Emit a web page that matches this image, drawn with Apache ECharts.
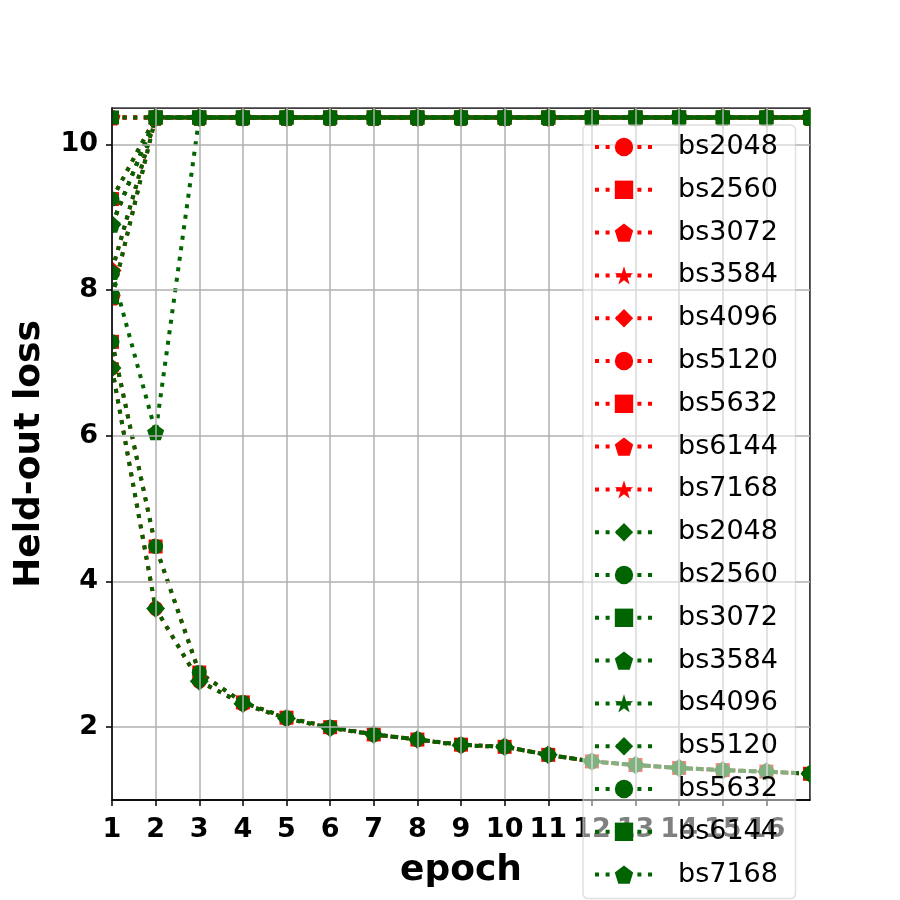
<!DOCTYPE html>
<html><head><meta charset="utf-8">
<script src="https://cdn.jsdelivr.net/npm/echarts@6/dist/echarts.min.js"></script>
<style>html,body{margin:0;padding:0;background:#fff}#c{width:900px;height:900px}</style>
</head><body><div id="c"></div>
<script>
const epochs = [1,2,3,4,5,6,7,8,9,10,11,12,13,14,15,16,17];
const xTickValues = [1,2,3,4,5,6,7,8,9,10,11,12,13,14,15,16];
const yTickValues = [2,4,6,8,10];
const batchNames = ['bs2048','bs2560','bs3072','bs3584','bs4096','bs5120','bs5632','bs6144','bs7168'];

// red group
const red_bs2048 = [6.93,3.63,2.63,2.32,2.12,1.99,1.90,1.83,1.75,1.73,1.62,1.53,1.48,1.44,1.41,1.39,1.36];
const red_bs2560 = [7.29,4.48,2.75,2.34,2.13,2.00,1.90,1.83,1.76,1.73,1.62,1.53,1.48,1.44,1.41,1.39,1.36];
const red_bs3072 = [7.90,10.37,10.37,10.37,10.37,10.37,10.37,10.37,10.37,10.37,10.37,10.37,10.37,10.37,10.37,10.37,10.37];
const red_bs3584 = [8.90,10.37,10.37,10.37,10.37,10.37,10.37,10.37,10.37,10.37,10.37,10.37,10.37,10.37,10.37,10.37,10.37];
const red_bs4096 = [8.27,10.37,10.37,10.37,10.37,10.37,10.37,10.37,10.37,10.37,10.37,10.37,10.37,10.37,10.37,10.37,10.37];
const red_bs5120 = [10.37,10.37,10.37,10.37,10.37,10.37,10.37,10.37,10.37,10.37,10.37,10.37,10.37,10.37,10.37,10.37,10.37];
const red_bs5632 = [9.25,10.37,10.37,10.37,10.37,10.37,10.37,10.37,10.37,10.37,10.37,10.37,10.37,10.37,10.37,10.37,10.37];
const red_bs6144 = [10.37,10.37,10.37,10.37,10.37,10.37,10.37,10.37,10.37,10.37,10.37,10.37,10.37,10.37,10.37,10.37,10.37];
const red_bs7168 = [10.37,10.37,10.37,10.37,10.37,10.37,10.37,10.37,10.37,10.37,10.37,10.37,10.37,10.37,10.37,10.37,10.37];

// green group
const green_bs2048 = [6.93,3.63,2.63,2.32,2.12,1.99,1.90,1.83,1.75,1.73,1.62,1.53,1.48,1.44,1.41,1.39,1.36];
const green_bs2560 = [7.29,4.48,2.75,2.34,2.13,2.00,1.90,1.83,1.76,1.73,1.62,1.53,1.48,1.44,1.41,1.39,1.36];
const green_bs3072 = [10.37,10.37,10.37,10.37,10.37,10.37,10.37,10.37,10.37,10.37,10.37,10.37,10.37,10.37,10.37,10.37,10.37];
const green_bs3584 = [8.25,6.05,10.37,10.37,10.37,10.37,10.37,10.37,10.37,10.37,10.37,10.37,10.37,10.37,10.37,10.37,10.37];
const green_bs4096 = [8.27,10.37,10.37,10.37,10.37,10.37,10.37,10.37,10.37,10.37,10.37,10.37,10.37,10.37,10.37,10.37,10.37];
const green_bs5120 = [8.90,10.37,10.37,10.37,10.37,10.37,10.37,10.37,10.37,10.37,10.37,10.37,10.37,10.37,10.37,10.37,10.37];
const green_bs5632 = [9.25,10.37,10.37,10.37,10.37,10.37,10.37,10.37,10.37,10.37,10.37,10.37,10.37,10.37,10.37,10.37,10.37];
const green_bs6144 = [7.90,10.37,10.37,10.37,10.37,10.37,10.37,10.37,10.37,10.37,10.37,10.37,10.37,10.37,10.37,10.37,10.37];
const green_bs7168 = [8.90,10.37,10.37,10.37,10.37,10.37,10.37,10.37,10.37,10.37,10.37,10.37,10.37,10.37,10.37,10.37,10.37];

const redValues = [red_bs2048,red_bs2560,red_bs3072,red_bs3584,red_bs4096,red_bs5120,red_bs5632,red_bs6144,red_bs7168];
const greenValues = [green_bs2048,green_bs2560,green_bs3072,green_bs3584,green_bs4096,green_bs5120,green_bs5632,green_bs6144,green_bs7168];

const PENT = 'path://M0,-1 L0.951,-0.309 L0.588,0.809 L-0.588,0.809 L-0.951,-0.309 Z';
const STAR = 'path://M0,-1 L0.2245,-0.309 L0.951,-0.309 L0.363,0.118 L0.588,0.809 L0,0.382 L-0.588,0.809 L-0.363,0.118 L-0.951,-0.309 L-0.2245,-0.309 Z';
const markerCycle = [
  {symbol:'circle', size:15},
  {symbol:'rect', size:14},
  {symbol:PENT, size:17},
  {symbol:STAR, size:17},
  {symbol:'diamond', size:19}
];

const FONT = 'DejaVu Sans';
const LINE_W = 4;
const DASH = [4, 6.6];
const series = [];
const legendData = [];
function addGroup(values, color, suffix, offset) {
  values.forEach((vals, i) => {
    const m = markerCycle[(offset + i) % 5];
    const name = batchNames[i] + suffix;
    legendData.push(name);
    series.push({
      type: 'line',
      name: name,
      data: epochs.map((e, j) => [e, vals[j]]),
      symbol: m.symbol,
      symbolSize: m.size,
      symbolKeepAspect: true,
      showAllSymbol: true,
      clip: true,
      lineStyle: {color: color, width: LINE_W, type: DASH},
      itemStyle: {color: color, borderWidth: 0},
      emphasis: {disabled: true},
      z: 2
    });
  });
}
addGroup(redValues, '#ff0000', '', 0);
addGroup(greenValues, '#006400', ' ', 9);

const GRID = {left: 112, right: 90, top: 108, bottom: 100};
const chart = echarts.init(document.getElementById('c'), null, {renderer: 'canvas'});
chart.setOption({
  animation: false,
  backgroundColor: '#ffffff',
  grid: Object.assign({show: true, borderColor: '#000', borderWidth: 1.5, backgroundColor: 'transparent'}, GRID),
  xAxis: {
    type: 'value', min: 1, max: 17, interval: 1, z: 6,
    name: 'epoch', nameLocation: 'middle', nameGap: 53,
    nameTextStyle: {fontSize: 36, fontWeight: 'bold', color: '#000', fontFamily: FONT},
    axisLine: {show: true, onZero: false, lineStyle: {color: '#000', width: 1.5}},
    axisTick: {show: true, length: 6, customValues: xTickValues, lineStyle: {color: '#000', width: 1.5}},
    axisLabel: {customValues: xTickValues, fontSize: 27, fontWeight: 'bold', color: '#000', fontFamily: FONT, margin: 16},
    splitLine: {show: true, lineStyle: {color: '#b0b0b0', width: 1.5}}
  },
  yAxis: {
    type: 'value', min: 1, max: 10.5, z: 6,
    name: 'Held-out loss', nameLocation: 'middle', nameGap: 64,
    nameTextStyle: {fontSize: 36, fontWeight: 'bold', color: '#000', fontFamily: FONT},
    axisLine: {show: true, onZero: false, lineStyle: {color: '#000', width: 1.5}},
    axisTick: {show: true, length: 6, customValues: yTickValues, lineStyle: {color: '#000', width: 1.5}},
    axisLabel: {customValues: yTickValues, fontSize: 27, fontWeight: 'bold', color: '#000', fontFamily: FONT, margin: 14},
    splitLine: {show: true, lineStyle: {color: '#b0b0b0', width: 1.5}}
  },
  legend: {
    show: true, orient: 'vertical', left: 583, top: 125, z: 8,
    padding: [7, 9, 9, 10],
    itemWidth: 58, itemHeight: 23, itemGap: 12.8,
    backgroundColor: 'rgba(255,255,255,0.5)',
    borderColor: 'rgba(204,204,204,0.6)', borderWidth: 1.5, borderRadius: 5,
    selectedMode: false,
    lineStyle: {width: LINE_W, type: DASH},
    textStyle: {fontSize: 27, fontFamily: FONT, color: '#000', lineHeight: 30, padding: [0, 0, 0, 20]},
    data: legendData
  },
  series: series
});

// Clip marker halves that fall outside the plot box (as the reference does), using the grid's own pixel bounds.
const p0 = chart.convertToPixel({gridIndex: 0}, [1, 10.5]);
const p1 = chart.convertToPixel({gridIndex: 0}, [17, 1]);
chart.setOption({
  graphic: [
    {type: 'rect', z: 5, silent: true, shape: {x: p0[0] - 12, y: p0[1] - 12, width: 11.2, height: p1[1] - p0[1] + 24}, style: {fill: '#ffffff'}},
    {type: 'rect', z: 5, silent: true, shape: {x: p1[0] + 0.8, y: p0[1] - 12, width: 14, height: p1[1] - p0[1] + 24}, style: {fill: '#ffffff'}},
    {type: 'rect', z: 5, silent: true, shape: {x: p0[0] - 12, y: p0[1] - 12, width: p1[0] - p0[0] + 26, height: 11.2}, style: {fill: '#ffffff'}}
  ]
});
</script>
</body></html>
